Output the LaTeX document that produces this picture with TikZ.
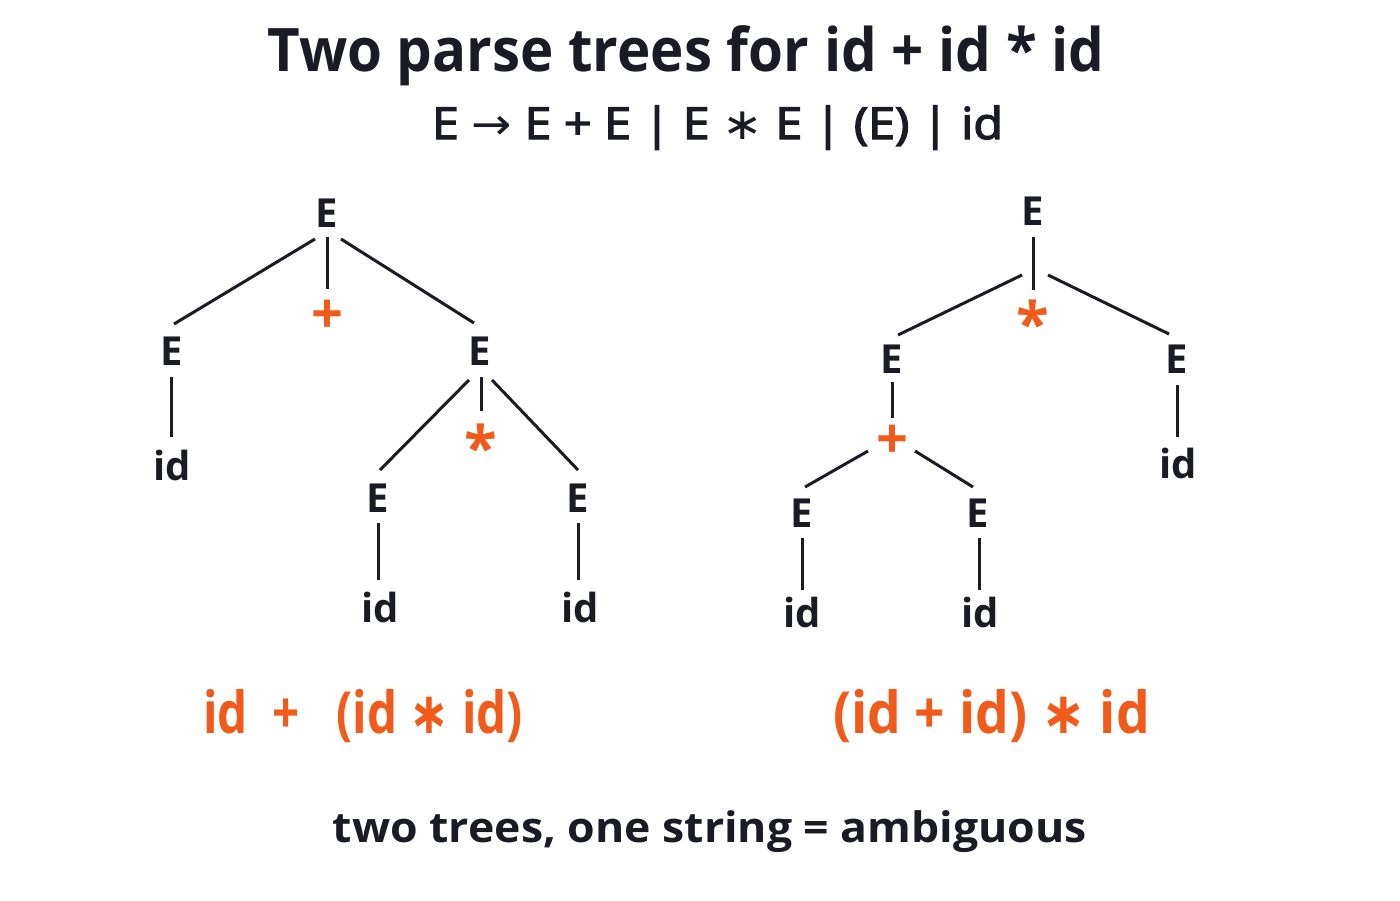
\documentclass[tikz,border=0pt]{standalone}
\usepackage{fontspec}
\usepackage{graphicx}
\setmainfont{Open Sans}
\newfontfamily\symf{DejaVu Sans}
\newfontfamily\medf{Open Sans}[FakeBold=3]
\definecolor{ink}{HTML}{1B1B26}
\definecolor{accent}{HTML}{F25A1A}
\newcommand\fitw[2]{\resizebox{#1}{\height}{#2}}
\begin{document}
\begin{tikzpicture}[x=0.5pt,y=-0.5pt,
  lbl/.style={anchor=base,inner sep=0pt,text=ink,font=\fontsize{20}{24}\selectfont\bfseries},
  op/.style={anchor=base,inner sep=0pt,text=accent,font=\fontsize{28}{32}\selectfont\bfseries},
  opstar/.style={anchor=base,inner sep=0pt,text=accent,font=\fontsize{30}{34}\selectfont\bfseries},
  edge/.style={draw=ink,line width=1.5pt},
  txt/.style={anchor=base,inner sep=0pt}]
\fill[white] (0,0) rectangle (1400,900);
\useasboundingbox (0,0) rectangle (1400,900);
% titles
\node[txt,text=ink,font=\fontsize{30}{36}\selectfont\bfseries] (title) at (686,71) {\fitw{418.5pt}{Two parse trees for id + id * id}};
\node[txt,text=ink,font=\medf\fontsize{22}{26}\selectfont] (gram) at (717.5,139) {\fitw{285.5pt}{E {\symf →} E + E | E {\symf ∗} E | (E) | id}};
% left tree
\node[lbl] (rootL) at (327,227) {E};
\node[op]  (plusL) at (327,333) {+};
\node[lbl] (EL) at (172,365) {E};
\node[lbl] (idL) at (172,480) {id};
\node[lbl] (ER) at (480,365) {E};
\node[opstar] (starL) at (481,469) {*};
\node[lbl] (ELL) at (378,512) {E};
\node[lbl] (ELR) at (578,512) {E};
\node[lbl] (idLL) at (380,622) {id};
\node[lbl] (idLR) at (580,622) {id};
\draw[edge] ([shift={(-12,12)}]rootL.base) -- ([shift={(2,-41)}]EL.base);
\draw[edge] ([shift={(0,10)}]rootL.base) -- ([shift={(0,-44)}]plusL.base);
\draw[edge] ([shift={(14,12)}]rootL.base) -- ([shift={(-6,-42)}]ER.base);
\draw[edge] ([shift={(-1,12)}]EL.base) -- ([shift={(-1,-43)}]idL.base);
\draw[edge] ([shift={(-11,15)}]ER.base) -- ([shift={(2,-42)}]ELL.base);
\draw[edge] ([shift={(1,12)}]ER.base) -- ([shift={(0,-58)}]starL.base);
\draw[edge] ([shift={(12,15)}]ER.base) -- ([shift={(0,-42)}]ELR.base);
\draw[edge] ([shift={(0,11)}]ELL.base) -- ([shift={(-2,-42)}]idLL.base);
\draw[edge] ([shift={(0,11)}]ELR.base) -- ([shift={(-2,-42)}]idLR.base);
% right tree
\node[lbl] (rootR) at (1033,225) {E};
\node[opstar] (starR) at (1033,345) {*};
\node[lbl] (ERL) at (892,373) {E};
\node[lbl] (ERR) at (1177,373) {E};
\node[op]  (plusR) at (892,458) {+};
\node[lbl] (E3) at (802,527) {E};
\node[lbl] (E4) at (978,527) {E};
\node[lbl] (id3) at (802,627) {id};
\node[lbl] (id4) at (980,627) {id};
\node[lbl] (id5) at (1178,478) {id};
\draw[edge] ([shift={(0,12)}]rootR.base) -- ([shift={(0,-55)}]starR.base);
\draw[edge] ([shift={(-11,50)}]rootR.base) -- ([shift={(6,-38)}]ERL.base);
\draw[edge] ([shift={(15,50)}]rootR.base) -- ([shift={(-8,-39)}]ERR.base);
\draw[edge] ([shift={(0,9)}]ERL.base) -- ([shift={(0,-40)}]plusR.base);
\draw[edge] ([shift={(-24,-7)}]plusR.base) -- ([shift={(3,-40)}]E3.base);
\draw[edge] ([shift={(23,-7)}]plusR.base) -- ([shift={(-5,-40)}]E4.base);
\draw[edge] ([shift={(0,11)}]E3.base) -- ([shift={(0,-37)}]id3.base);
\draw[edge] ([shift={(1,11)}]E4.base) -- ([shift={(-1,-37)}]id4.base);
\draw[edge] ([shift={(0,12)}]ERR.base) -- ([shift={(-1,-41)}]id5.base);
% results
\node[txt,text=accent,font=\fontsize{29}{34}\selectfont\bfseries] (resL) at (363,733) {\fitw{160pt}{id\ \ +\ \ \ (id\ {\symf\bfseries ∗}\ id)}};
\node[txt,text=accent,font=\fontsize{29}{34}\selectfont\bfseries] (resR) at (991.5,733) {\fitw{158.5pt}{(id\ +\ id)\ {\symf\bfseries ∗}\ id}};
\node[txt,text=ink,font=\fontsize{21}{26}\selectfont\bfseries] (concl) at (710,842) {\fitw{377pt}{two trees, one string = ambiguous}};
\end{tikzpicture}
\end{document}
